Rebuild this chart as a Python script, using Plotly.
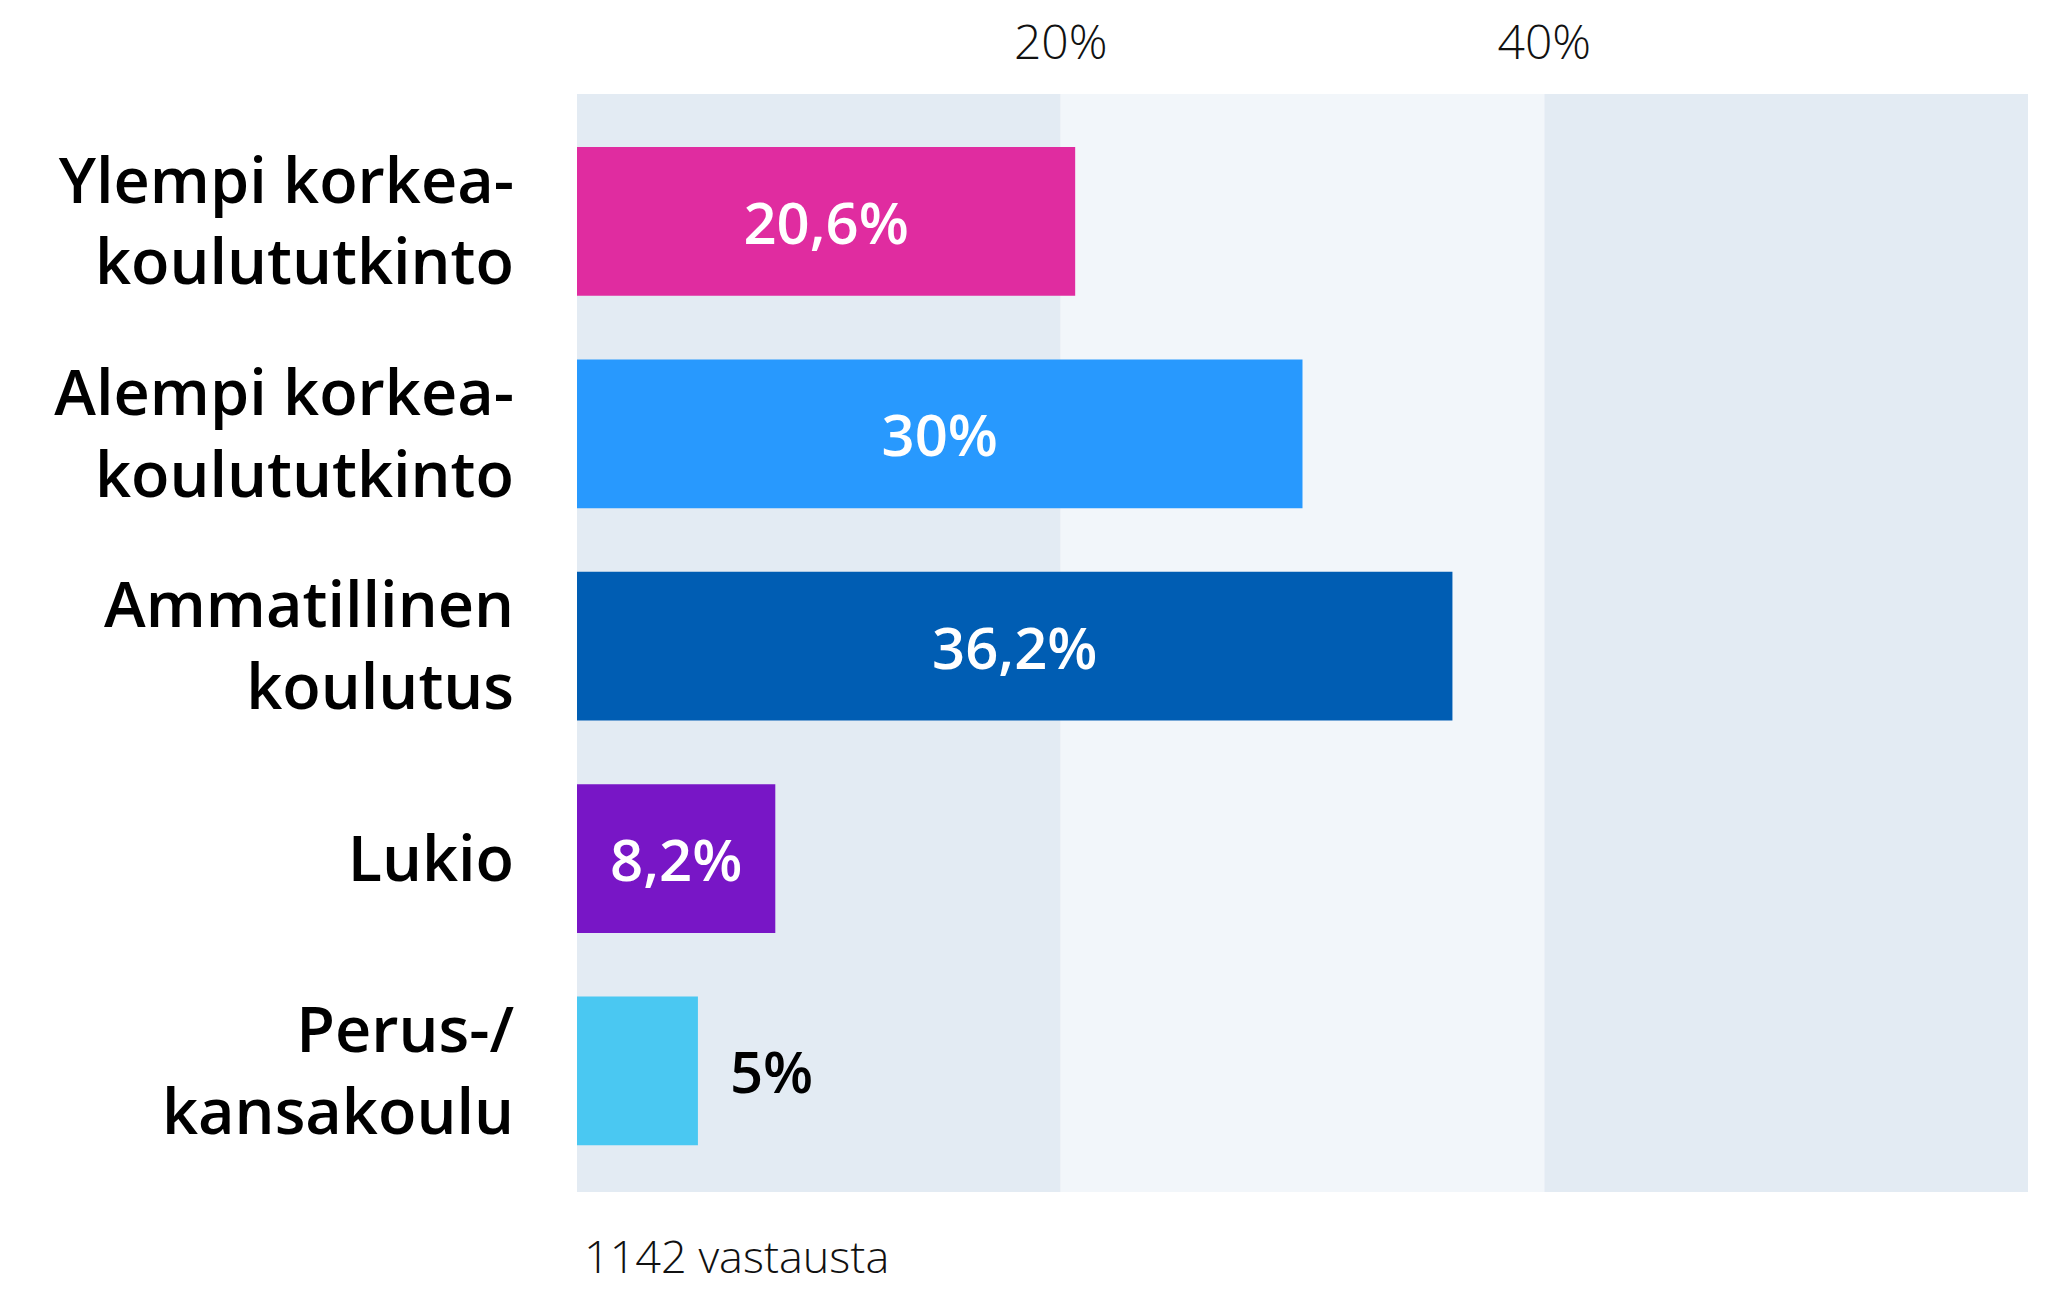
import plotly.graph_objects as go

categories = ["Ylempi korkea-<br>koulututkinto", "Alempi korkea-<br>koulututkinto",
              "Ammatillinen<br>koulutus", "Lukio", "Perus-/<br>kansakoulu"]
values = [20.6, 30, 36.2, 8.2, 5]
bar_colors = ["#e02ca0", "#2899fe", "#005db3", "#7816c6", "#4ac8f2"]
label_colors = ["white", "white", "white", "white", "black"]
label_positions = ["inside", "inside", "inside", "inside", "outside"]
tick_values = [0, 20, 40, 60]
tick_labels = ["", "20%", "40%", ""]
note = "1142 vastausta"

FONT = "Open Sans"

texts = []
for v, pos in zip(values, label_positions):
    t = f"{v:g}".replace(".", ",") + "%"
    if pos == "outside":
        t = "\u2002" + t
    texts.append(t)

fig = go.Figure()
fig.add_trace(go.Bar(
    x=values, y=categories, orientation="h",
    marker=dict(color=bar_colors, line=dict(width=0)),
    width=0.7,
    text=texts, textposition=label_positions,
    insidetextanchor="middle",
    textfont=dict(family=FONT, size=58, color=label_colors, weight=600),
    cliponaxis=False,
    hoverinfo="skip",
))

# alternating background bands from tick values
for i in range(len(tick_values) - 1):
    fig.add_shape(type="rect", xref="x", yref="paper",
                  x0=tick_values[i], x1=tick_values[i + 1], y0=0, y1=1,
                  fillcolor="#e3ebf3" if i % 2 == 0 else "#f2f6fa",
                  line=dict(width=0), layer="below")

fig.add_annotation(text=note, xref="paper", yref="paper", x=0, y=0,
                   xanchor="left", yanchor="top", yshift=-32, xshift=6,
                   showarrow=False, borderpad=0,
                   font=dict(family=FONT, size=45, color="#111", weight=300))

fig.update_layout(
    width=2049, height=1289,
    margin=dict(l=577, r=21, t=94, b=97, autoexpand=False),
    paper_bgcolor="white", plot_bgcolor="white",
    showlegend=False,
    font=dict(family=FONT, color="black"),
    xaxis=dict(side="top", range=[tick_values[0], tick_values[-1]],
               tickvals=tick_values, ticktext=tick_labels, automargin=False,
               showgrid=False, zeroline=False, showline=False, ticks="",
               tickfont=dict(family=FONT, size=48, color="#111", weight=300),
               ticklabelstandoff=24),
    yaxis=dict(autorange=False, range=[4.57, -0.6], type="category", automargin=False,
               showgrid=False, zeroline=False, showline=False, ticks="",
               tickfont=dict(family=FONT, size=63, color="black", weight=600),
               ticklabelstandoff=62),
)

fig.write_html(
    "out.html",
    config={"displayModeBar": False},
    post_script="document.body.style.margin='0';document.body.style.overflow='hidden';",
)
